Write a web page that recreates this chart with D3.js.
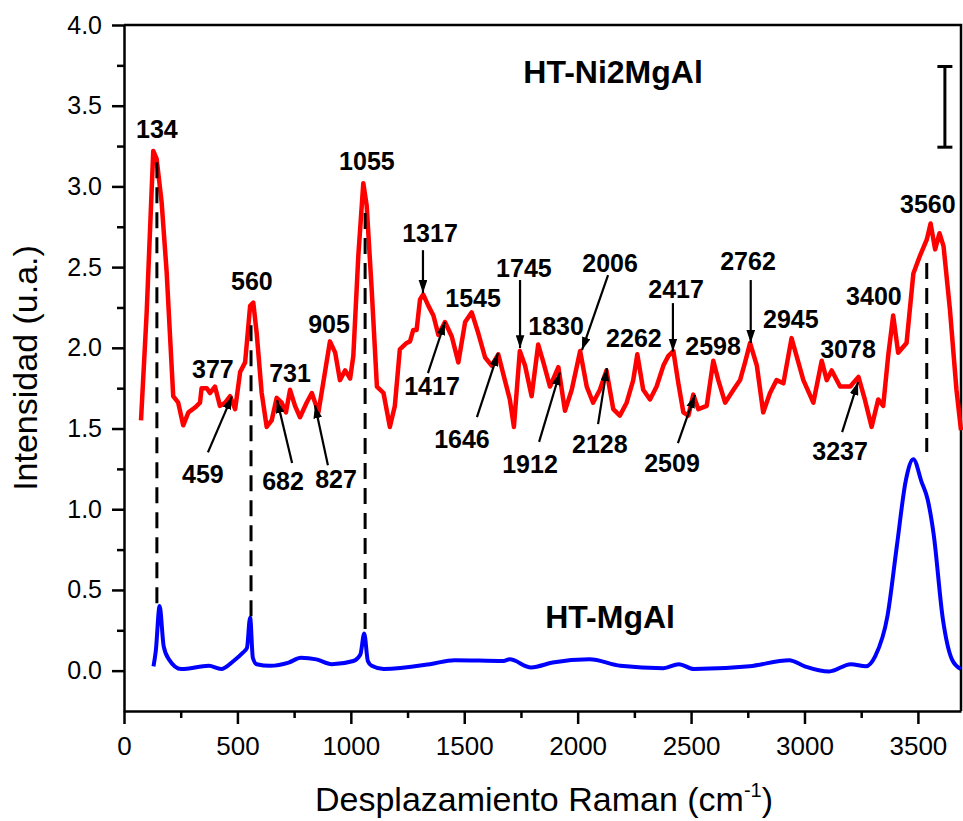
<!DOCTYPE html>
<html><head><meta charset="utf-8">
<script src="https://cdn.jsdelivr.net/npm/d3@7"></script>
<style>
body{margin:0;background:#fff}
svg{display:block}
text{font-family:"Liberation Sans",Arial,Helvetica,sans-serif;fill:#000}
</style>
</head><body>
<svg id="chart" width="963" height="821"></svg>
<script>
// ---------- DATA ----------
const redX = [75,100,129,144,166,188,217,239,261,284,313,335,342,365,379,401,423,446,468,490,512,534,556,570,585,607,629,651,673,695,714,732,754,776,805,828,857,886,908,931,952,975,997,1011,1033,1055,1070,1092,1115,1144,1172,1194,1216,1246,1261,1275,1290,1305,1319,1342,1364,1386,1415,1445,1474,1504,1533,1562,1592,1621,1650,1679,1701,1719,1745,1768,1797,1826,1849,1878,1915,1944,1974,2011,2040,2068,2098,2127,2157,2186,2216,2245,2263,2289,2319,2348,2378,2400,2422,2444,2466,2488,2510,2532,2569,2598,2620,2650,2687,2716,2738,2760,2790,2818,2848,2877,2907,2943,2965,2995,3039,3076,3098,3120,3157,3202,3238,3266,3296,3325,3347,3369,3391,3413,3450,3480,3509,3539,3556,3576,3595,3613,3641,3670,3690];
const redY = [1.55,2.22,3.22,3.17,2.90,2.47,1.70,1.66,1.52,1.60,1.63,1.66,1.75,1.75,1.72,1.76,1.64,1.66,1.70,1.62,1.85,1.91,2.26,2.28,2.09,1.72,1.51,1.55,1.69,1.66,1.60,1.74,1.64,1.57,1.66,1.72,1.60,1.85,2.04,1.97,1.80,1.86,1.81,1.95,2.57,3.02,2.88,2.36,1.76,1.72,1.51,1.64,1.99,2.03,2.04,2.11,2.11,2.30,2.33,2.26,2.20,2.08,2.16,2.07,1.91,2.16,2.22,2.09,1.94,1.89,1.96,1.80,1.68,1.51,1.98,1.89,1.70,2.02,1.91,1.76,1.88,1.61,1.74,1.98,1.76,1.66,1.74,1.86,1.62,1.58,1.66,1.80,1.96,1.74,1.68,1.76,1.89,1.95,1.98,1.78,1.60,1.58,1.71,1.62,1.64,1.92,1.80,1.66,1.74,1.80,1.91,2.03,1.89,1.60,1.72,1.80,1.78,2.06,1.95,1.80,1.66,1.92,1.80,1.86,1.76,1.76,1.82,1.68,1.51,1.68,1.64,1.95,2.20,1.97,2.03,2.46,2.57,2.67,2.77,2.61,2.71,2.63,2.24,1.74,1.49];

const blueX = [130,140,157,175,198,252,374,428,483,523,542,556,568,585,644,726,780,848,916,1011,1042,1059,1075,1092,1145,1349,1457,1673,1700,1795,1890,2052,2188,2378,2446,2513,2758,2933,3001,3109,3204,3271,3312,3366,3407,3447,3480,3516,3543,3569,3610,3650,3689];
const blueY = [0.027,0.12,0.40,0.15,0.07,0.01,0.03,0.01,0.06,0.11,0.14,0.33,0.08,0.04,0.03,0.05,0.08,0.07,0.04,0.06,0.10,0.23,0.06,0.03,0.01,0.04,0.065,0.06,0.07,0.02,0.05,0.07,0.03,0.015,0.04,0.01,0.027,0.065,0.027,-0.005,0.04,0.027,0.09,0.34,0.77,1.18,1.31,1.17,1.06,0.85,0.32,0.07,0.01];

const xTickValues = [0,500,1000,1500,2000,2500,3000,3500];
const xMinorTicks = [250,750,1250,1750,2250,2750,3250];
const yTickValues = [0,0.5,1.0,1.5,2.0,2.5,3.0,3.5,4.0];
const yMinorTicks = [0.25,0.75,1.25,1.75,2.25,2.75,3.25,3.75];

const xTitle = "Desplazamiento Raman (cm";
const xTitleSup = "-1";
const yTitle = "Intensidad (u.a.)";
const seriesNames = ["HT-Ni2MgAl","HT-MgAl"];
const seriesNameX = [2156,2143];
const seriesNameY = [3.64,0.264];

// peak labels without arrows (label centre x, baseline y, in data units)
const peakLabels = ["134","560","1055","377","731","905","1545","1830","2262","2598","2945","3078","3400","3560"];
const peakLabelX = [145,564,1071,392,732,904,1539,1905,2248,2597,2940,3192,3306,3544];
const peakLabelY = [3.30,2.358,3.101,1.813,1.788,2.092,2.253,2.079,2.005,1.955,2.123,1.937,2.265,2.835];

// peak labels with arrows
const arrowLabels = ["1317","1745","2417","2762","2006","1417","1646","1912","2128","2509","3237","459","682","827"];
const arrowLabelX = [1349,1763,2434,2751,2143,1358,1490,1790,2098,2416,3157,348,701,935];
const arrowLabelY = [2.655,2.439,2.308,2.482,2.470,1.707,1.379,1.224,1.348,1.230,1.305,1.162,1.119,1.131];
const arrowFromX = [1318,1746,2420,2763,2134,1340,1556,1830,2090,2442,3166,370,741,899];
const arrowFromY = [2.605,2.420,2.277,2.420,2.451,1.843,1.571,1.417,1.527,1.410,1.478,1.352,1.286,1.273];
const arrowToX   = [1318,1746,2420,2763,2019,1415,1649,1922,2129,2517,3236,476,675,842];
const arrowToY   = [2.339,1.998,1.977,2.030,1.986,2.160,1.967,1.849,1.874,1.708,1.788,1.699,1.676,1.644];

// dashed guide lines
const guideX = [145,560,1063,3539];
const guideTop = [3.15,2.14,2.835,2.525];
const guideBottom = [0.38,0.326,0.227,1.354];

// intensity scale bar (0.5 u.a.)
const scaleBarX = 3619;
const scaleBarY = [3.243,3.743];

// ---------- CHART ----------
const svg = d3.select("#chart");
const x = d3.scaleLinear().domain([0,3690]).range([124,961]);
const y = d3.scaleLinear().domain([-0.25,4.0]).range([711,25]);

const defs = svg.append("defs");
defs.append("marker").attr("id","ah")
  .attr("viewBox","0 0 12 8").attr("refX",12).attr("refY",4)
  .attr("markerWidth",13).attr("markerHeight",9)
  .attr("markerUnits","userSpaceOnUse").attr("orient","auto")
  .append("path").attr("d","M0,0 L12,4 L0,8 Z").attr("fill","#000");

// axes
const axisW = 2.5;
const gx = svg.append("g").attr("transform",`translate(0,${y(-0.25)})`)
  .call(d3.axisBottom(x).tickValues(xTickValues).tickSize(13).tickSizeOuter(0).tickPadding(13).tickFormat(d3.format("d")));
gx.selectAll("text").attr("font-size",26).style("font-family",'"Liberation Sans",Arial,sans-serif');
const gxm = svg.append("g").attr("transform",`translate(0,${y(-0.25)})`)
  .call(d3.axisBottom(x).tickValues(xMinorTicks).tickSize(7).tickSizeOuter(0).tickFormat(""));
gxm.select(".domain").remove();

const gy = svg.append("g").attr("transform",`translate(${x(0)},0)`)
  .call(d3.axisLeft(y).tickValues(yTickValues).tickSize(12).tickSizeOuter(0).tickPadding(10).tickFormat(d3.format(".1f")));
gy.selectAll("text").attr("font-size",25).style("font-family",'"Liberation Sans",Arial,sans-serif');
const gym = svg.append("g").attr("transform",`translate(${x(0)},0)`)
  .call(d3.axisLeft(y).tickValues(yMinorTicks).tickSize(7).tickSizeOuter(0).tickFormat(""));
gym.select(".domain").remove();

svg.selectAll(".domain, .tick line").attr("stroke","#000").attr("stroke-width",axisW);
svg.append("path")
  .attr("d",`M${x(0)},${y(4)} H${x(3690)} V${y(-0.25)}`)
  .attr("fill","none").attr("stroke","#000").attr("stroke-width",axisW);

// axis titles
const xt = svg.append("text").attr("x",544).attr("y",811).attr("text-anchor","middle").attr("font-size",34);
xt.append("tspan").text(xTitle);
xt.append("tspan").attr("font-size",20).attr("dy",-14).text(xTitleSup);
xt.append("tspan").attr("dy",14).attr("font-size",34).text(")");
svg.append("text").attr("transform","translate(37,368) rotate(-90)").attr("text-anchor","middle")
  .attr("font-size",34).text(yTitle);

// series
const line = d3.line().x(d=>x(d[0])).y(d=>y(d[1]));
const redData = redX.map((v,i)=>[v,redY[i]]);
const blueData = blueX.map((v,i)=>[v,blueY[i]]);
svg.append("path").datum(redData).attr("d",line)
  .attr("fill","none").attr("stroke","#ff0000").attr("stroke-width",4.5).attr("stroke-linejoin","round");
svg.append("path").datum(blueData).attr("d",line.curve(d3.curveMonotoneX))
  .attr("fill","none").attr("stroke","#0000ff").attr("stroke-width",4).attr("stroke-linejoin","round");

// dashed guides
svg.append("g").selectAll("line").data(guideX).join("line")
  .attr("x1",d=>x(d)).attr("x2",d=>x(d))
  .attr("y1",(d,i)=>y(guideTop[i])).attr("y2",(d,i)=>y(guideBottom[i]))
  .attr("stroke","#000").attr("stroke-width",3).attr("stroke-dasharray","16,9");

// labels
const lab = svg.append("g").attr("font-weight","bold").attr("font-size",25).attr("text-anchor","middle");
lab.selectAll("text.p").data(peakLabels).join("text").attr("class","p")
  .attr("x",(d,i)=>x(peakLabelX[i])).attr("y",(d,i)=>y(peakLabelY[i])).text(d=>d);
lab.selectAll("text.a").data(arrowLabels).join("text").attr("class","a")
  .attr("x",(d,i)=>x(arrowLabelX[i])).attr("y",(d,i)=>y(arrowLabelY[i])).text(d=>d);
svg.append("g").selectAll("line").data(arrowLabels).join("line")
  .attr("x1",(d,i)=>x(arrowFromX[i])).attr("y1",(d,i)=>y(arrowFromY[i]))
  .attr("x2",(d,i)=>x(arrowToX[i])).attr("y2",(d,i)=>y(arrowToY[i]))
  .attr("stroke","#000").attr("stroke-width",2.2).attr("marker-end","url(#ah)");

svg.append("g").attr("font-weight","bold").attr("font-size",32).attr("text-anchor","middle")
  .selectAll("text").data(seriesNames).join("text")
  .attr("x",(d,i)=>x(seriesNameX[i])).attr("y",(d,i)=>y(seriesNameY[i])).text(d=>d);

// scale bar
const sb = svg.append("g").attr("stroke","#000").attr("stroke-width",3);
const sbx = x(scaleBarX);
sb.append("line").attr("x1",sbx).attr("x2",sbx).attr("y1",y(scaleBarY[0])).attr("y2",y(scaleBarY[1]));
scaleBarY.forEach(v=>sb.append("line").attr("x1",sbx-7.5).attr("x2",sbx+7.5).attr("y1",y(v)).attr("y2",y(v)));
</script>
</body></html>
